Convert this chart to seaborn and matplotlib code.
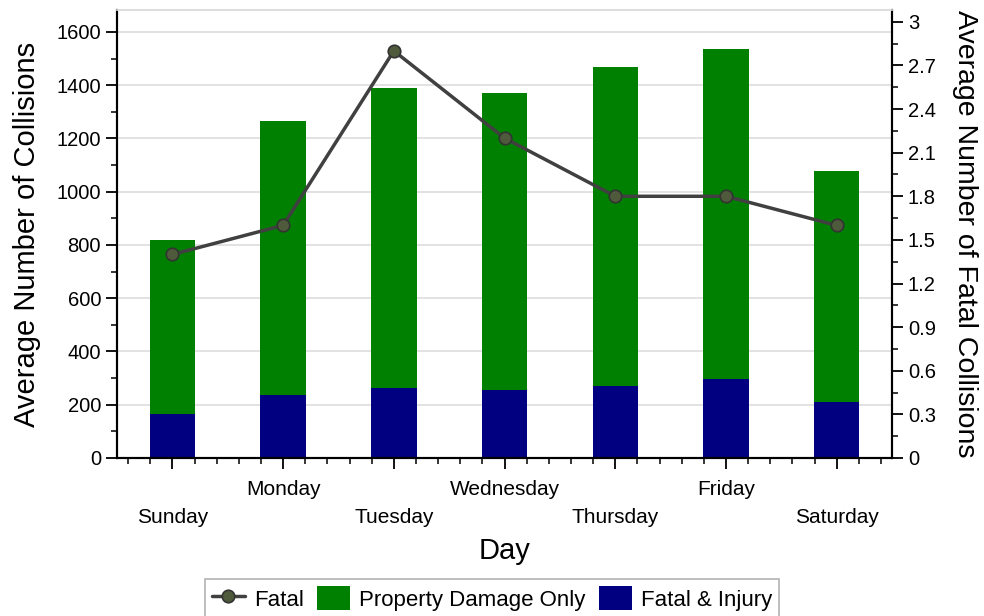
import numpy as np
import matplotlib
matplotlib.use("Agg")
import matplotlib.pyplot as plt
from matplotlib.ticker import MultipleLocator, FuncFormatter
import seaborn as sns

# Values
days = ["Sunday", "Monday", "Tuesday", "Wednesday", "Thursday", "Friday", "Saturday"]
fatal_injury = [165, 237, 263, 255, 270, 297, 210]
property_damage = [655, 1028, 1127, 1115, 1198, 1238, 868]
fatal = [1.4, 1.6, 2.8, 2.2, 1.8, 1.8, 1.6]

total = [a + b for a, b in zip(fatal_injury, property_damage)]

sns.set_theme(style="ticks")
plt.rcParams["font.family"] = ["Liberation Sans", "DejaVu Sans"]
plt.rcParams["text.color"] = "black"
plt.rcParams["axes.labelcolor"] = "black"
plt.rcParams["xtick.color"] = "black"
plt.rcParams["ytick.color"] = "black"

green = "#008000"
navy = "#000080"
line_col = "#404040"

fig = plt.figure(figsize=(9.84, 6.16), dpi=100)
ax = fig.add_axes([0.119, 0.2565, 0.7875, 0.727])

# Stacked bars: total in green, fatal & injury drawn over the bottom part
sns.barplot(x=days, y=total, color=green, saturation=1, width=0.41,
            linewidth=0, label="Property Damage Only", ax=ax)
sns.barplot(x=days, y=fatal_injury, color=navy, saturation=1, width=0.41,
            linewidth=0, label="Fatal & Injury", ax=ax)

ax.set_ylim(0, 1682)
ax.set_xlim(-0.5, 6.5)
ax.yaxis.set_major_locator(MultipleLocator(200))
ax.yaxis.set_minor_locator(MultipleLocator(100))
ax.xaxis.set_minor_locator(MultipleLocator(0.2))
ax.yaxis.grid(True, color="#dddddd", lw=1.2)
ax.set_axisbelow(True)

ax.set_ylabel("Average Number of Collisions", fontsize=21, labelpad=11)
ax.set_xlabel("Day", fontsize=21, labelpad=7)
ax.tick_params(axis="both", which="major", direction="out", length=8, width=1.3,
               labelsize=14.5, labelcolor="black")
ax.tick_params(axis="x", which="major", labelsize=15)
ax.tick_params(axis="both", which="minor", direction="out", length=4, width=1.1)

# staggered day labels
for i, t in enumerate(ax.xaxis.get_major_ticks()):
    t.set_pad(28 if i % 2 == 0 else 8)

# Fatal line on the right axis
ax2 = ax.twinx()
sns.pointplot(x=days, y=fatal, color=line_col, markers="o", linestyles="-",
              errorbar=None, markersize=9, linewidth=2.5,
              markerfacecolor="#4f5a3c", markeredgecolor="#333333",
              markeredgewidth=1.2, label="Fatal", ax=ax2)
ax2.set_xlim(-0.5, 6.5)
ax2.set_ylim(0, 3.08)
ax2.yaxis.set_major_locator(MultipleLocator(0.3))
ax2.yaxis.set_minor_locator(MultipleLocator(0.15))
ax2.yaxis.set_major_formatter(FuncFormatter(lambda v, p: f"{v:g}"))
ax2.set_ylabel("Average Number of Fatal Collisions", fontsize=20.5, rotation=270,
               labelpad=30)
ax2.tick_params(axis="y", which="major", direction="out", length=8, width=1.3,
                labelsize=14.5, labelcolor="black")
ax2.tick_params(axis="y", which="minor", direction="out", length=4, width=1.1)

for a in (ax, ax2):
    for side in ("left", "right", "bottom"):
        a.spines[side].set_color("black")
        a.spines[side].set_linewidth(1.5)
    a.spines["top"].set_color("#dddddd")
    a.spines["top"].set_visible(True)
    a.spines["right"].set_visible(True)

h1, l1 = ax.get_legend_handles_labels()
h2, l2 = ax2.get_legend_handles_labels()
leg = fig.legend(h2 + h1, l2 + l1, loc="lower center", bbox_to_anchor=(0.5, -0.02),
                 ncol=3, frameon=True, fancybox=False, edgecolor="#a0a0a0",
                 fontsize=16, handlelength=1.5, handleheight=1.3,
                 handletextpad=0.4, columnspacing=0.6, borderpad=0.3)
leg.get_frame().set_linewidth(1.2)
if ax.get_legend():
    ax.get_legend().remove()
if ax2.get_legend():
    ax2.get_legend().remove()

fig.savefig("out.png", dpi=100)
